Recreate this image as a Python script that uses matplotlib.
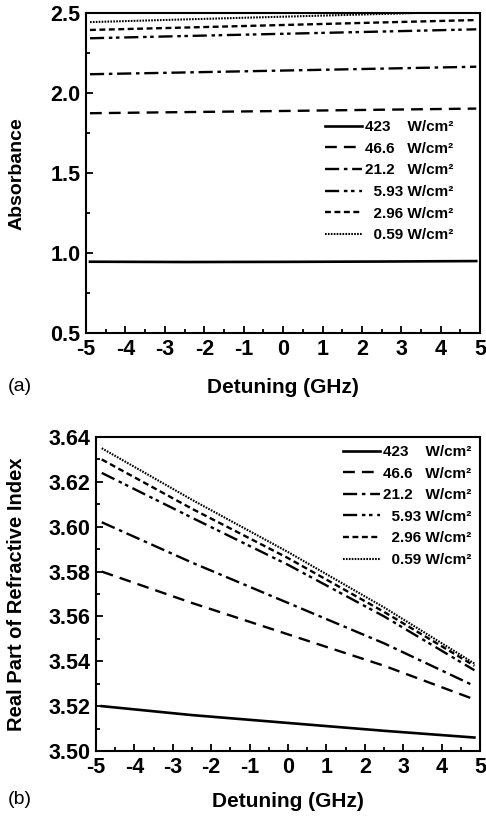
import matplotlib
matplotlib.use("Agg")
import matplotlib.pyplot as plt
from matplotlib.ticker import MultipleLocator, FormatStrFormatter

plt.rcParams['font.family'] = ['Liberation Sans', 'DejaVu Sans']
plt.rcParams['axes.unicode_minus'] = False

# ---- data ----
labels = ["423    W/cm²", "46.6   W/cm²", "21.2   W/cm²",
          "  5.93 W/cm²", "  2.96 W/cm²", "  0.59 W/cm²"]

det_a = [-4.9, -2.5, 0.0, 2.5, 4.9]
abs_423 = [0.946, 0.944, 0.945, 0.947, 0.950]
abs_466 = [1.875, 1.882, 1.889, 1.897, 1.904]
abs_212 = [2.119, 2.130, 2.142, 2.154, 2.166]
abs_593 = [2.344, 2.358, 2.372, 2.386, 2.400]
abs_296 = [2.396, 2.411, 2.427, 2.443, 2.458]
abs_059 = [2.445, 2.462, 2.479, 2.496, 2.513]

det_b = [-4.85, -2.5, 0.0, 2.5, 4.85]
n_423 = [3.520, 3.516, 3.5125, 3.509, 3.506]
n_466 = [3.580, 3.566, 3.552, 3.538, 3.523]
n_212 = [3.602, 3.584, 3.566, 3.548, 3.529]
n_593 = [3.624, 3.604, 3.583, 3.560, 3.536]
n_296 = [3.630, 3.608, 3.586, 3.562, 3.538]
n_059 = [3.635, 3.612, 3.5887, 3.564, 3.539]

styles = [
    dict(linestyle='-', linewidth=1.9),
    dict(linestyle=(0, (5, 3)), linewidth=1.7),
    dict(linestyle=(0, (6, 2, 1.5, 2)), linewidth=1.7),
    dict(linestyle=(0, (6, 2, 1.5, 1.5, 1.5, 2)), linewidth=1.7),
    dict(linestyle=(0, (2.5, 1.5)), linewidth=1.7),
    dict(linestyle=(0, (0.8, 0.6)), linewidth=1.5),
]

fig = plt.figure(figsize=(4.86, 8.23), dpi=100)
ax1 = fig.add_axes([0.177, 0.5954, 0.811, 0.3884])
ax2 = fig.add_axes([0.1975, 0.0875, 0.7905, 0.3815])

series_a = [abs_423, abs_466, abs_212, abs_593, abs_296, abs_059]
series_b = [n_423, n_466, n_212, n_593, n_296, n_059]

for ys, st, lb in zip(series_a, styles, labels):
    ax1.plot(det_a, ys, color='black', label=lb, **st)
for ys, st, lb in zip(series_b, styles, labels):
    ax2.plot(det_b, ys, color='black', label=lb, **st)

def style_axes(ax):
    ax.set_xlim(-5, 5)
    ax.xaxis.set_major_locator(MultipleLocator(1))
    ax.xaxis.set_minor_locator(MultipleLocator(0.5))
    ax.tick_params(which='both', direction='in', top=False, right=False, width=1.3)
    ax.tick_params(which='major', length=5, labelsize=15.5)
    ax.tick_params(axis='x', which='major', pad=4)
    ax.tick_params(axis='y', which='major', pad=4)
    ax.tick_params(which='minor', length=3)
    for s in ax.spines.values():
        s.set_linewidth(1.5)
    for t in ax.get_xticklabels() + ax.get_yticklabels():
        t.set_fontweight('bold')
    ax.set_xlabel('Detuning (GHz)', fontsize=15, fontweight='bold', va='center')

ax1.set_ylim(0.5, 2.5)
ax1.yaxis.set_major_locator(MultipleLocator(0.5))
ax1.yaxis.set_minor_locator(MultipleLocator(0.25))
ax1.yaxis.set_major_formatter(FormatStrFormatter('%.1f'))
style_axes(ax1)
ax1.set_ylabel('Absorbance', fontsize=14, fontweight='bold', va='center')
ax1.yaxis.set_label_coords(-0.175, 0.5)
ax1.xaxis.set_label_coords(0.5, -0.169)

ax2.set_ylim(3.50, 3.64)
ax2.yaxis.set_major_locator(MultipleLocator(0.02))
ax2.yaxis.set_minor_locator(MultipleLocator(0.01))
ax2.yaxis.set_major_formatter(FormatStrFormatter('%.2f'))
style_axes(ax2)
ax2.set_ylabel('Real Part of Refractive Index', fontsize=14.5, fontweight='bold', va='center')
ax2.yaxis.set_label_coords(-0.206, 0.5)
ax2.xaxis.set_label_coords(0.5, -0.162)

legprops = dict(family=['Liberation Sans Narrow', 'Liberation Sans'], size=11, weight='bold')
legkw = dict(frameon=False, prop=legprops, handlelength=2.4, handletextpad=0.2,
             labelspacing=0.5, borderaxespad=0, borderpad=0, loc='upper left')
ax1.legend(bbox_to_anchor=(0.607, 0.666), **legkw)
ax2.legend(bbox_to_anchor=(0.643, 0.975), **legkw)

fig.text(0.016, 1 - 387 / 823, '(a)', fontsize=14, va='center', ha='left')
fig.text(0.016, 1 - 800 / 823, '(b)', fontsize=14, va='center', ha='left')

fig.savefig('out.png', dpi=100)
